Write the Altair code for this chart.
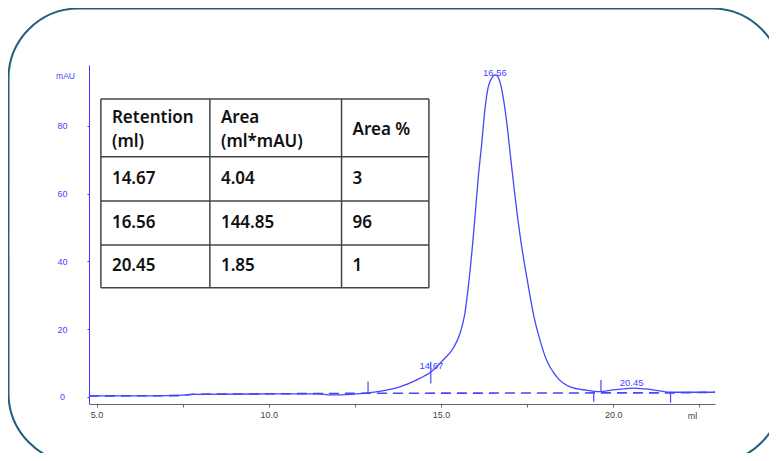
import altair as alt
import pandas as pd

# ---------------- data ----------------
signal_ml = [4.78, 6.0, 7.4, 7.8, 10.0, 11.4, 11.8, 12.4, 12.88, 13.3, 13.8, 14.28, 14.72,
             15.06, 15.35, 15.55, 15.69, 15.79, 15.89, 15.97, 16.08, 16.18, 16.27, 16.37,
             16.50, 16.58, 16.69, 16.80, 16.92, 17.02, 17.12, 17.22, 17.33, 17.45, 17.57,
             17.70, 17.87, 18.06, 18.35, 18.74, 19.22, 19.61, 20.0, 20.3, 20.58, 20.9,
             21.16, 21.64, 22.95]
signal_mau = [0.3, 0.3, 0.5, 0.8, 0.9, 0.9, 0.6, 0.8, 1.2, 1.8, 3.0, 5.0, 7.5,
              10.9, 14.4, 18.8, 24.7, 32.6, 42.4, 51.5, 65.0, 74.9, 84.7, 91.6,
              94.6, 95.1, 93.6, 88.6, 79.8, 70.5, 61.5, 53.0, 45.0, 37.5, 30.5,
              23.5, 16.8, 10.9, 6.0, 3.0, 2.0, 1.6, 2.1, 2.4, 2.6, 2.4,
              2.1, 1.4, 1.4]

baseline_ml = [4.78, 7.4, 7.8, 12.88, 19.45, 21.66, 22.95]
baseline_mau = [0.3, 0.4, 0.8, 1.1, 1.2, 1.2, 1.4]

marker_ml = [12.88, 14.70, 19.43, 19.64, 21.66]
marker_lo = [1.1, 4.0, -1.4, 1.4, -1.7]
marker_hi = [4.6, 10.4, 1.4, 5.0, 1.4]

peak_labels = ["14.67", "16.56", "20.45"]
peak_label_ml = [14.72, 16.56, 20.53]
peak_label_mau = [9.1, 95.7, 4.0]

table_header_top = ["Retention", "Area", "Area %"]
table_header_bottom = ["(ml)", "(ml*mAU)", ""]
table_rows = [["14.67", "4.04", "3"],
              ["16.56", "144.85", "96"],
              ["20.45", "1.85", "1"]]

x_tick_values = [5, 7.5, 10, 12.5, 15, 17.5, 20, 22.5]
y_tick_values = [0, 20, 40, 60, 80]

# ---------------- layout (axis units) ----------------
X_DOMAIN = [4.78, 22.95]
Y_DOMAIN = [-2.07, 98.0]
table_col_edges = [5.125, 8.289, 12.11, 14.646]
table_row_edges = [87.97, 70.94, 57.86, 44.87, 32.27]
text_offset_ml = 0.32

BLUE = "#4646ff"
AXIS_BLUE = "#3c3cff"
GRAY = "#666666"
FRAME = "#22607c"
FONT = "Liberation Sans"
TFONT = "Noto Sans"

xs = alt.Scale(domain=X_DOMAIN, nice=False, zero=False)
ys = alt.Scale(domain=Y_DOMAIN, nice=False, zero=False)

x_axis = alt.Axis(values=x_tick_values,
                  labelExpr="datum.value % 5 == 0 ? format(datum.value, '.1f') : ''",
                  grid=False, tickSize=3, tickColor=GRAY, domainColor=GRAY,
                  labelColor="#444444", labelFont=FONT, labelFontSize=9, labelPadding=3,
                  titleX=603, titleY=11, titleAlign="center", titleBaseline="middle",
                  titleFont=FONT, titleFontSize=9, titleFontWeight="normal",
                  titleColor="#444444")
y_axis = alt.Axis(values=y_tick_values, grid=False, tickSize=2, tickColor=AXIS_BLUE,
                  domainColor=AXIS_BLUE, labelColor=BLUE, labelFont=FONT,
                  labelFontSize=9, labelAlign="center", labelBaseline="middle",
                  labelPadding=25, titleAngle=0, titleX=-24, titleY=10,
                  titleAlign="center", titleBaseline="middle", titleFont=FONT,
                  titleFontSize=8.5, titleFontWeight="normal", titleColor=BLUE)


def X(field):
    return alt.X(field, scale=xs, axis=x_axis, title="ml")


def Y(field):
    return alt.Y(field, scale=ys, axis=y_axis, title="mAU")


sig_df = pd.DataFrame({"ml": signal_ml, "mau": signal_mau})
base_df = pd.DataFrame({"ml": baseline_ml, "mau": baseline_mau})
mark_df = pd.DataFrame({"ml": marker_ml, "lo": marker_lo, "hi": marker_hi})
lab_df = pd.DataFrame({"ml": peak_label_ml, "mau": peak_label_mau, "t": peak_labels})

# frame
frame = alt.Chart(pd.DataFrame({"a": [0]})).mark_rect(
    filled=False, stroke=FRAME, strokeWidth=2, cornerRadius=70
).encode(x=alt.value(-80.5), x2=alt.value(693), y=alt.value(-56.5), y2=alt.value(398))

# table grid
hrules = pd.DataFrame({"x": [table_col_edges[0]] * len(table_row_edges),
                       "x2": [table_col_edges[-1]] * len(table_row_edges),
                       "y": table_row_edges})
vrules = pd.DataFrame({"x": table_col_edges,
                       "y": [table_row_edges[0]] * len(table_col_edges),
                       "y2": [table_row_edges[-1]] * len(table_col_edges)})
hgrid = alt.Chart(hrules).mark_rule(color="#444444", strokeWidth=1.5).encode(
    x=X("x:Q"), x2="x2:Q", y=Y("y:Q"))
vgrid = alt.Chart(vrules).mark_rule(color="#444444", strokeWidth=1.5).encode(
    x=X("x:Q"), y=Y("y:Q"), y2="y2:Q")

cells = []
hc = (table_row_edges[0] + table_row_edges[1]) / 2
for j in range(3):
    xl = table_col_edges[j] + text_offset_ml
    if table_header_bottom[j]:
        cells.append({"x": xl, "y": hc + 3.0, "t": table_header_top[j]})
        cells.append({"x": xl, "y": hc - 4.1, "t": table_header_bottom[j]})
    else:
        cells.append({"x": xl, "y": hc - 0.6, "t": table_header_top[j]})
for i, row in enumerate(table_rows):
    yc = (table_row_edges[i + 1] + table_row_edges[i + 2]) / 2
    for j, v in enumerate(row):
        cells.append({"x": table_col_edges[j] + text_offset_ml, "y": yc, "t": v})
cell_df = pd.DataFrame(cells)
table_text = alt.Chart(cell_df).mark_text(
    align="left", baseline="middle", font=TFONT, fontSize=17, fontWeight=600, color="#111111"
).encode(x=X("x:Q"), y=Y("y:Q"), text="t:N")

baseline = alt.Chart(base_df).mark_line(color=BLUE, strokeWidth=1.6, strokeDash=[10, 6]).encode(
    x=X("ml:Q"), y=Y("mau:Q"))

signal = alt.Chart(sig_df).mark_line(color=BLUE, strokeWidth=1.3, interpolate="monotone").encode(
    x=X("ml:Q"), y=Y("mau:Q"))

markers = alt.Chart(mark_df).mark_rule(color=BLUE, strokeWidth=1.2).encode(
    x=X("ml:Q"), y=Y("lo:Q"), y2="hi:Q")

labels = alt.Chart(lab_df).mark_text(
    font=FONT, fontSize=9.5, color=BLUE, baseline="middle", align="center"
).encode(x=X("ml:Q"), y=Y("mau:Q"), text="t:N")

chart = alt.layer(frame, hgrid, vgrid, table_text, baseline, signal, markers, labels).properties(
    width=626, height=339,
    padding={"left": 81, "top": 57, "right": 54, "bottom": 49},
    autosize=alt.AutoSizeParams(type="none"),
    background="white",
).configure_view(strokeWidth=0)

chart.save("out.html", embed_options={"renderer": "svg", "actions": False})
